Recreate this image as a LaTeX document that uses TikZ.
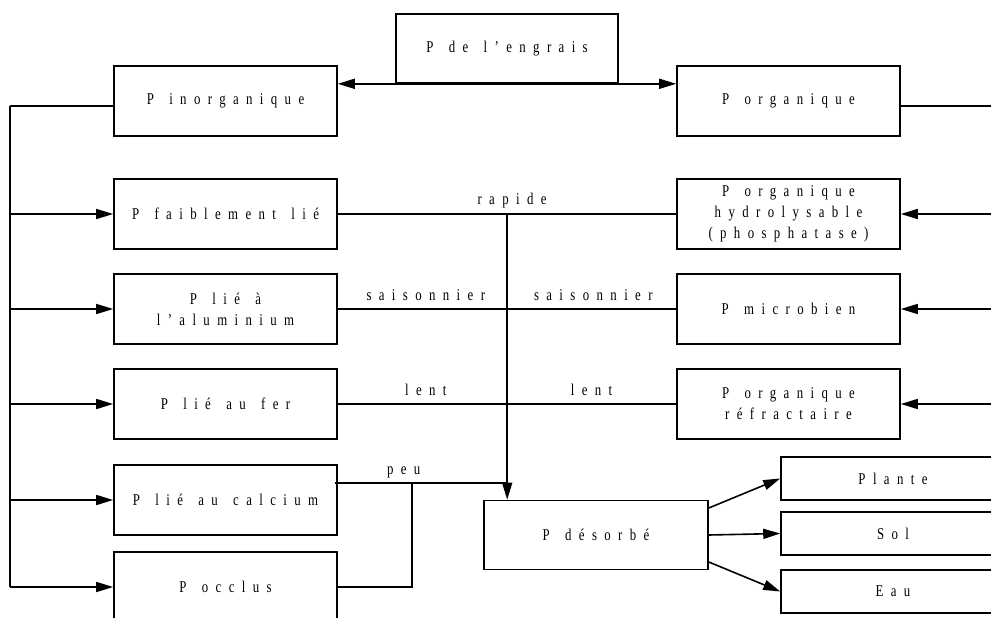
\documentclass[tikz,border=0pt]{standalone}
\usepackage{fontspec}
\setmainfont{Liberation Serif}[FakeStretch=0.78, LetterSpace=45, WordSpace=1.45]
\usetikzlibrary{positioning}
\usetikzlibrary{arrows.meta}
\tikzset{
    pbox/.style = {
        draw, rectangle, minimum width=223bp, minimum height=70bp, align=center, inner sep=2bp
    },
    sinkbox/.style = {
        pbox, minimum width=224bp, minimum height=43bp
    },
    rate/.style = {
        anchor=base, yshift=9bp, inner sep=0pt
    },
}

\begin{document}
\begin{tikzpicture}[x=1bp, y=-1bp, every node/.style={font=\fontsize{16.5}{21}\selectfont}]
        \clip (0,0) rectangle (991,618);
        \begin{scope}[line width=1.6bp, >={Triangle[width=10bp,length=17bp]}]
            % Place the blocks
            \node[pbox, minimum width=222bp, minimum height=69bp] (engrais) at (507,48.5) {P de l’engrais};
            \node[pbox] (inorg) at (225.5,101) {P inorganique};
            \node[pbox] (org) at (788.5,101) {P organique};
            \node[pbox] (faible) at (225.5,214) {P faiblement lié};
            \node[pbox] (alu) at (225.5,309) {P lié à\\l’aluminium};
            \node[pbox] (fer) at (225.5,404) {P lié au fer};
            \node[pbox] (calcium) at (225.5,500) {P lié au calcium};
            \node[pbox] (occlus) at (225.5,587) {P occlus};
            \node[pbox] (hydro) at (788.5,214) {P organique\\hydrolysable\\(phosphatase)};
            \node[pbox] (micro) at (788.5,309) {P microbien};
            \node[pbox] (refr) at (788.5,404) {P organique\\réfractaire};
            \node[pbox, minimum width=224bp, minimum height=69bp] (desorbe) at (596,535) {P désorbé};
            \node[sinkbox] (plante) at (893,478.5) {Plante};
            \node[sinkbox] (sol) at (893,533.5) {Sol};
            \node[sinkbox] (eau) at (893,591.5) {Eau};

            % Fertiliser split
            \draw[<->] (inorg.east |- engrais.south) -- (org.west |- engrais.south);

            % Inorganic pools
            \draw ([yshift=-5bp]inorg.west) -- ++(-103,0) coordinate (lbus);
            \draw (lbus) -- (lbus |- occlus.west);
            \foreach \n in {faible, alu, fer, calcium, occlus}{
                \draw[->] (lbus |- \n.west) -- (\n.west);
            }

            % Organic pools
            \draw ([yshift=-5bp]org.east) -- ++(100,0) coordinate (rbus);
            \draw (rbus) -- ([yshift=-1bp]rbus |- refr.east);
            \foreach \n in {hydro, micro, refr}{
                \draw[->] (rbus |- \n.east) -- (\n.east);
            }

            % Release towards the desorbed pool
            \draw (faible.east) -- node[rate, pos=0.515]{rapide} (hydro.west);
            \draw (alu.east) -- node[rate, pos=0.26]{saisonnier} node[rate, pos=0.755]{saisonnier} (micro.west);
            \draw (fer.east) -- node[rate, pos=0.26]{lent} node[rate, pos=0.75]{lent} (refr.west);
            \coordinate (drop) at ([xshift=24bp]desorbe.north west);
            \draw[->] (drop |- faible.east) -- (drop);
            \coordinate (peu) at ([xshift=-3bp, yshift=17bp]calcium.east);
            \draw (peu) -- node[rate, pos=0.4]{peu} (peu -| drop);
            \draw (occlus.east) -- ++(74,0) -- ++(0,-104);

            % Sinks
            \draw[->] ([yshift=27bp]desorbe.east) -- (plante.west);
            \draw[->] (desorbe.east) -- (sol.west);
            \draw[->] ([yshift=-27bp]desorbe.east) -- (eau.west);
        \end{scope}
\end{tikzpicture}
\end{document}
